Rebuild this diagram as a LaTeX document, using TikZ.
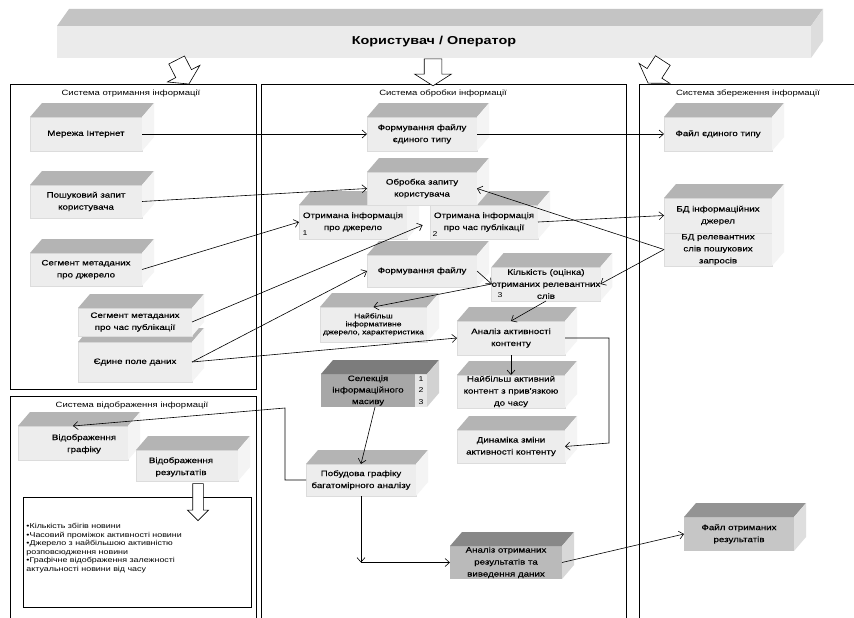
\documentclass[tikz,border=0pt]{standalone}
\usepackage{fontspec}
\setmainfont{Liberation Sans}[FakeStretch=1.25]
\newfontfamily\boxface{Liberation Sans}[FakeStretch=1.25, FakeBold=0.3]
\usetikzlibrary{arrows.meta,shapes.arrows}

% face colours of the 3-D boxes
\definecolor{frontL}{HTML}{EDEDED}
\definecolor{topL}{HTML}{B4B4B4}
\definecolor{sideL}{HTML}{F4F4F4}
\definecolor{edgeL}{HTML}{DCDCDC}
\definecolor{frontS}{HTML}{A7A7A7}
\definecolor{topS}{HTML}{7C7C7C}
\definecolor{sideS}{HTML}{D2D2D2}
\definecolor{colS}{HTML}{E6E6E6}
\definecolor{frontD}{HTML}{BABABA}
\definecolor{topD}{HTML}{888888}
\definecolor{sideD}{HTML}{D8D8D8}
\definecolor{frontF}{HTML}{C6C6C6}
\definecolor{topF}{HTML}{939393}
\definecolor{sideF}{HTML}{DEDEDE}
\definecolor{barFront}{HTML}{EBEBEB}
\definecolor{barTop}{HTML}{C4C4C4}
\definecolor{barSide}{HTML}{DDDDDD}

% depth of the boxes
\newcommand\bdx{12}
\newcommand\bdy{14}
% top and right faces: #1 front top-left, #2 front top-right, #3 front bottom-right
\newcommand\boxfaces[5]{%
  \fill[#4] (#1) -- ([shift={(\bdx,-\bdy)}]#1) -- ([shift={(\bdx,-\bdy)}]#2) -- (#2) -- cycle;
  \fill[#5] (#2) -- ([shift={(\bdx,-\bdy)}]#2) -- ([shift={(\bdx,-\bdy)}]#3) -- (#3) -- cycle;}
\newcommand\lfaces[1]{\boxfaces{#1.north west}{#1.north east}{#1.south east}{topL}{sideL}}

\tikzset{
  every node/.style={inner sep=0pt, outer sep=0pt},
  boxfont/.style={font=\boxface\fontsize{7.8}{12}\selectfont},
  boxfontB/.style={font=\boxface\fontsize{7.8}{11.5}\selectfont},
  smallf/.style={font=\boxface\fontsize{6.8}{8}\selectfont},
  numf/.style={font=\fontsize{7}{11.5}\selectfont},
  titlef/.style={font=\fontsize{7.6}{9}\selectfont},
  listf/.style={font=\fontsize{7.1}{8.5}\selectfont, align=left},
  lbox/.style={fill=frontL, draw=edgeL, line width=0.3pt, align=center, boxfont},
  dbox/.style={draw=none, align=center, boxfont},
  panel/.style={draw=black, line width=0.6pt},
  conn/.style={draw=black, line width=0.6pt, -{Straight Barb[length=4.5pt,width=8pt]}},
  bigarrow/.style={single arrow, draw=black, fill=white, line width=0.6pt,
    inner xsep=0pt, inner ysep=8.5pt, single arrow head extend=9.5pt,
    single arrow tip angle=115, single arrow head indent=0pt, minimum height=27},
  smallarrow/.style={single arrow, draw=black, fill=white, line width=0.6pt,
    inner xsep=0pt, inner ysep=5pt, single arrow head extend=5.3pt,
    single arrow tip angle=90, single arrow head indent=0pt, minimum height=37},
}

\begin{document}
\begin{tikzpicture}[x=1pt,y=-1pt]
\useasboundingbox (0,0) rectangle (854,618);
\fill[white] (0,0) rectangle (854,618);

% ---------- subsystem frames ----------
\draw[panel] (10,84) rectangle (256,389);
\draw[panel] (261,630) -- (261,84) -- (626,84) -- (626,630);
\draw[panel] (639,630) -- (639,84) -- (870,84);
\draw[panel] (256,630) -- (256,396) -- (10,396) -- (10,630);

\node[titlef] (tAcq)  at (131,94)  {Система отримання інформації};
\node[titlef] (tProc) at (443,94)  {Система обробки інформації};
\node[titlef] (tStor) at (748,94)  {Система збереження інформації};
\node[titlef] (tDisp) at (132,405) {Система відображення інформації};

% ---------- user bar ----------
\node[fill=barFront, minimum width=754, minimum height=32,
      font=\bfseries\fontsize{11.5}{14}\selectfont] (user) at (434,42) {Користувач / Оператор};
{\renewcommand\bdy{17}\boxfaces{user.north west}{user.north east}{user.south east}{barTop}{barSide}}

\node[bigarrow, rotate=-63]  (aL) at (181.5,69.5) {};
\node[bigarrow, rotate=-90]  (aM) at (433,69.5) {};
\node[bigarrow, rotate=-123] (aR) at (657,69.5) {};

% ---------- acquisition ----------
\node[lbox, minimum width=112, minimum height=34] (net) at (86,134) {Мережа Інтернет}; \lfaces{net}
\node[lbox, minimum width=112, minimum height=33] (query) at (86,201.5) {Пошуковий запит\\користувача}; \lfaces{query}
\node[lbox, minimum width=112, minimum height=33] (segsrc) at (86,269.5) {Сегмент метаданих\\про джерело}; \lfaces{segsrc}
\node[lbox, minimum width=114, minimum height=40] (field) at (135,362) {Єдине поле даних}; \lfaces{field}
\node[lbox, minimum width=114, minimum height=28] (segtime) at (135,322) {Сегмент метаданих\\про час публікації}; \lfaces{segtime}

% ---------- processing ----------
\node[lbox, minimum width=110, minimum height=34] (fmtone) at (422,134) {Формування файлу\\єдиного типу}; \lfaces{fmtone}
\node[lbox, minimum width=108, minimum height=34] (got1) at (353,222) {Отримана інформація\\про джерело}; \lfaces{got1}
\node[lbox, minimum width=108, minimum height=34] (got2) at (484,222) {Отримана інформація\\про час публікації}; \lfaces{got2}
\node[lbox, minimum width=110, minimum height=33] (proc) at (422,188.5) {Обробка запиту\\користувача}; \lfaces{proc}
\node[numf] (n1) at (305,233) {1};
\node[numf] (n2) at (435,234) {2};

\node[lbox, minimum width=110, minimum height=32] (fmt) at (422,271) {Формування файлу}; \lfaces{fmt}
\node[lbox, minimum width=108, minimum height=34] (count) at (546,284) {Кількість (оцінка)\\отриманих релевантних\\слів}; \lfaces{count}
\node[numf] (n3) at (500,295) {3};
\node[lbox, smallf, minimum width=107, minimum height=35] (info) at (373.5,324.5) {Найбільш\\інформативне\\джерело, характеристика}; \lfaces{info}
\node[lbox, minimum width=108, minimum height=34] (act) at (511,338) {Аналіз активності\\контенту}; \lfaces{act}
\node[lbox, minimum width=108, minimum height=33] (actcont) at (511,391.5) {Найбільш активний\\контент з прив'язкою\\до часу}; \lfaces{actcont}
\node[lbox, minimum width=108, minimum height=33] (dyn) at (511,446.5) {Динаміка зміни\\активності контенту}; \lfaces{dyn}

\node[dbox, boxfontB, fill=frontS, minimum width=94, minimum height=33] (sel) at (368,390.5) {Селекція\\інформаційного\\масиву};
\node[numf, fill=colS, align=center, minimum width=12, minimum height=33] (selnum) at (421,390.5) {1\\2\\3};
\boxfaces{sel.north west}{selnum.north east}{selnum.south east}{topS}{sideS}

\node[lbox, minimum width=110, minimum height=32] (plot) at (361,480) {Побудова графіку\\багатомірного аналізу}; \lfaces{plot}

\node[dbox, fill=frontD, minimum width=112, minimum height=33] (res) at (506,562.5) {Аналіз отриманих\\результатів та\\виведення даних};
\boxfaces{res.north west}{res.north east}{res.south east}{topD}{sideD}

% ---------- storage ----------
\node[lbox, minimum width=108, minimum height=34] (store1) at (718,134) {Файл єдиного типу}; \lfaces{store1}
\node[lbox, minimum width=108, minimum height=35] (dbA) at (718,215.5) {БД інформаційних\\джерел};
\node[lbox, minimum width=108, minimum height=33] (dbB) at (718,249.5) {БД релевантних\\слів пошукових\\запросів};
\boxfaces{dbA.north west}{dbA.north east}{dbB.south east}{topL}{sideL}

\node[dbox, fill=frontF, minimum width=110, minimum height=34] (resfile) at (739,534) {Файл отриманих\\результатів};
\boxfaces{resfile.north west}{resfile.north east}{resfile.south east}{topF}{sideF}

% ---------- display ----------
\node[lbox, minimum width=110, minimum height=34] (showplot) at (73,443) {}; \lfaces{showplot}
\node[boxfont, align=center] (showplotT) at (84,444) {Відображення\\графіку};
\node[lbox, minimum width=102, minimum height=31] (showres) at (187,465.5) {}; \lfaces{showres}
\node[boxfont, align=center] (showresT) at (181,467) {Відображення\\результатів};

\node[draw=black, line width=0.6pt, minimum width=228, minimum height=110] (lstbox) at (137,552) {};
\node[smallarrow, rotate=-90] (aRes) at (198,499.5) {};
\node[listf, anchor=west] (lst) at (26.5,548) {•Кількість збігів новини\\•Часовий проміжок активності новини\\•Джерело з найбільшою активністю\\розповсюдження новини\\•Графічне відображення залежності\\актуальності новини від часу};

% ---------- connectors ----------
\draw[conn] (net.east) -- (fmtone.west);
\draw[conn] (fmtone.east) -- (store1.west);
\draw[conn] (query.east) -- (proc.west);
\draw[conn] (segsrc.east) -- (got1.west);
\draw[conn, shorten >=8pt] (segtime.east) -- (got2.west);
\draw[conn] (field.east) -- (fmt.west);
\draw[conn] (field.east) -- (act.west);
\draw[conn] (fmt.east) -- (count.west);
\draw[conn] (count.west) -- (info.north);
\draw[conn] (count.south) -- (act.north);
\draw[conn] (act.south) -- (actcont.north);
\coordinate (actR) at (609,338);
\coordinate (dynR) at (609,443);
\draw[conn] (act.east) -- (actR) -- (dynR) -- (dyn.east);
\draw[conn] (got2.east) -- (dbA.west);
\draw[conn] (dbB.west) -- (proc.east);
\draw[conn] (dbB.west) -- (count.east);
\draw[conn] ([xshift=7pt]sel.south) -- (plot.north);
\coordinate (plotL1) at (285,480);
\coordinate (plotL2) at (285,408);
\draw[conn] (plot.west) -- (plotL1) -- (plotL2) -- (showplot.north);
\coordinate (plotDown) at (361,562.5);
\draw[conn] (plot.south) -- (plotDown);
\draw[conn] (plotDown) -- (res.west);
\draw[conn] (res.east) -- (resfile.west);
\end{tikzpicture}
\end{document}
